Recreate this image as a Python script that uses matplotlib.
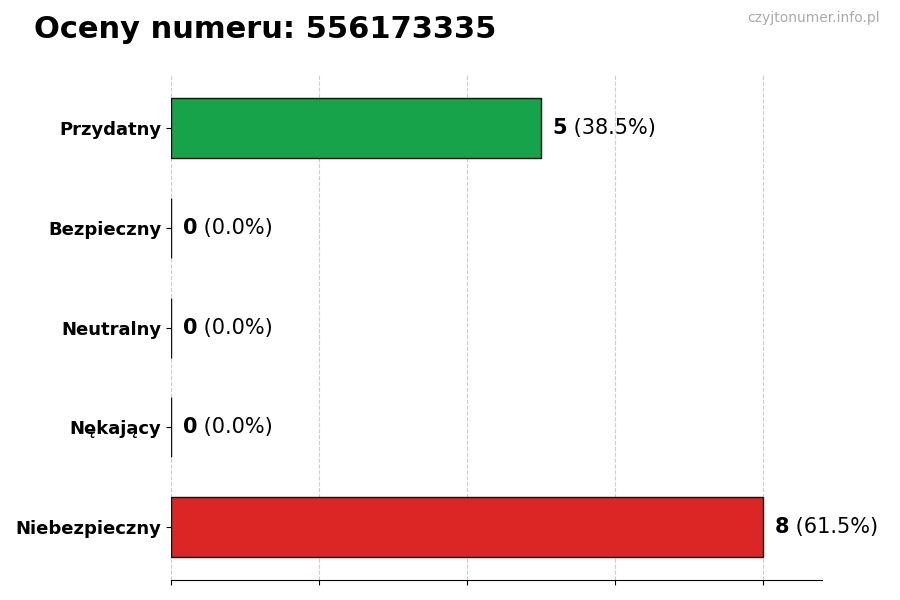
import matplotlib
matplotlib.use("Agg")
import matplotlib.pyplot as plt

categories = ["Przydatny", "Bezpieczny", "Neutralny", "Nękający", "Niebezpieczny"]
counts = [5, 0, 0, 0, 8]
percents = [38.5, 0.0, 0.0, 0.0, 61.5]
colors = ["#16a34a", "#6b7280", "#6b7280", "#6b7280", "#dc2626"]
title = "Oceny numeru: 556173335"
watermark = "czyjtonumer.info.pl"

fig = plt.figure(figsize=(9, 6), dpi=100)
ax = fig.add_axes([0.19, 0.033, 0.723, 0.842])

ypos = list(range(len(categories)))
ax.barh(ypos, counts, height=0.6, color=colors, edgecolor="#111111", linewidth=1, zorder=3)
ax.set_yticks(ypos)
ax.set_yticklabels(categories, fontsize=13, fontweight="bold")
ax.set_ylim(4.53, -0.53)
ax.set_xlim(0, 8.8)
ax.set_xticks([0, 2, 4, 6, 8])
ax.set_xticklabels([])
ax.grid(axis="x", linestyle="--", color="#cccccc", linewidth=0.8, zorder=0)
for s in ("top", "right", "left"):
    ax.spines[s].set_visible(False)

for y, c, p in zip(ypos, counts, percents):
    t = ax.text(c + 0.16, y, str(c), fontsize=15, fontweight="bold", va="center", ha="left")
    ax.annotate(f" ({p:.1f}%)", xy=(1, 0.5), xycoords=t, va="center", ha="left", fontsize=15)

fig.text(0.038, 0.95, title, fontsize=22, fontweight="bold", va="center", ha="left")
fig.text(0.978, 0.97, watermark, fontsize=10, color="#aaaaaa", va="center", ha="right")

fig.savefig("out.png", dpi=100)
